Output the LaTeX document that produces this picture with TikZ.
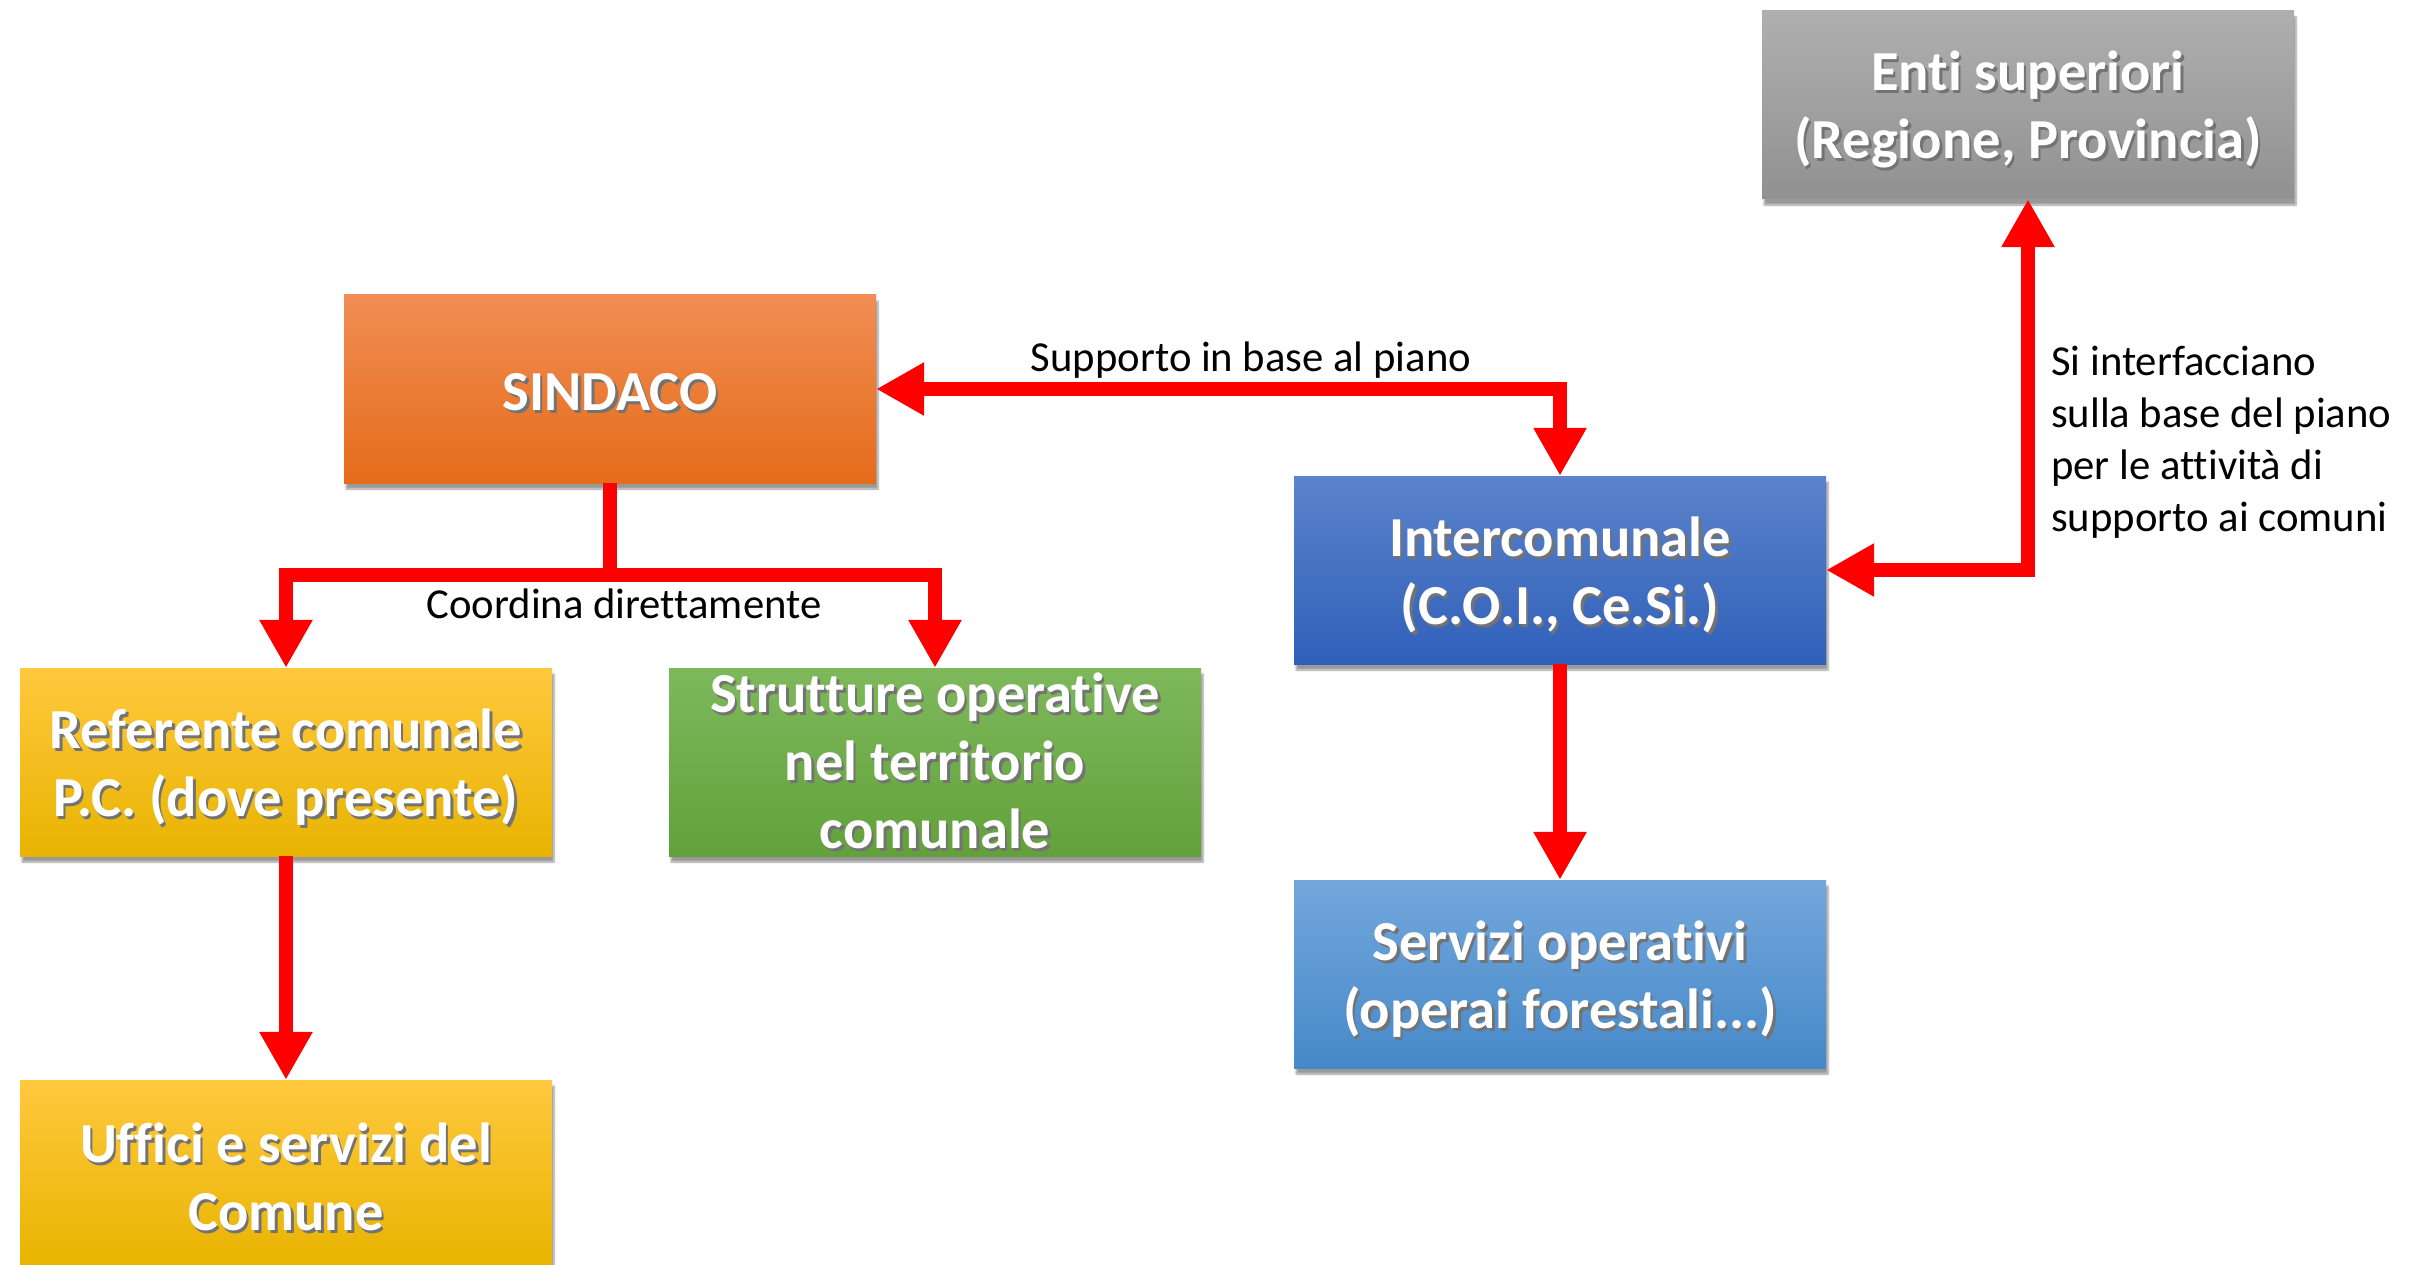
\documentclass[tikz,border=0pt]{standalone}
\usepackage{fontspec}
\setmainfont{Carlito}[Ligatures=NoCommon]
\usetikzlibrary{arrows.meta,shadows.blur}

\definecolor{orangeT}{RGB}{241,141,84}
\definecolor{orangeM}{RGB}{243,126,44}
\definecolor{orangeB}{RGB}{229,108,26}
\definecolor{grayT}{RGB}{175,175,175}
\definecolor{grayB}{RGB}{145,145,145}
\definecolor{blueT}{RGB}{92,131,204}
\definecolor{blueB}{RGB}{47,96,185}
\definecolor{yellowT}{RGB}{255,200,62}
\definecolor{yellowM}{RGB}{255,192,0}
\definecolor{yellowB}{RGB}{232,180,0}
\definecolor{greenT}{RGB}{126,184,92}
\definecolor{greenB}{RGB}{98,161,58}
\definecolor{lblueT}{RGB}{115,167,220}
\definecolor{lblueB}{RGB}{70,137,201}

% white lettering with a dark offset copy underneath
\newcommand\shtxt[1]{\leavevmode\rlap{\kern2.5pt\raisebox{-3pt}{\textcolor{black!55}{#1}}}#1}
% taller first line, so short texts sit a little lower in their box
\newcommand\lowerstrut[1][52pt]{\rule{0pt}{#1}}

\begin{document}
\begin{tikzpicture}[x=1pt,y=-1pt,
  unitbox/.style={rectangle, minimum width=532pt, minimum height=188pt,
    inner sep=0pt, align=center, text=white,
    font=\fontsize{56.5}{68}\selectfont\bfseries,
    blur shadow={shadow xshift=2pt, shadow yshift=-6pt, shadow blur steps=6, shadow opacity=40}},
  link/.style={draw=red, line width=14pt},
  tip/.style={-{Triangle[width=50pt,length=48pt]}},
  twotip/.style={{Triangle[width=50pt,length=48pt]}-{Triangle[width=50pt,length=48pt]}},
  note/.style={font=\fontsize{42.7}{52}\selectfont, text=black, inner sep=0pt}]

\useasboundingbox (0,0) rectangle (2409,1265);

% boxes
\node[unitbox, top color=orangeT, middle color=orangeM, bottom color=orangeB] (sindaco) at (610,389) {\lowerstrut[46pt]\shtxt{SINDACO}};
\node[unitbox, top color=grayT, bottom color=grayB] (enti) at (2028,105) {\lowerstrut\shtxt{Enti superiori}\\\shtxt{(Regione, Provincia)}};
\node[unitbox, top color=blueT, bottom color=blueB] (interc) at (1560,570) {\lowerstrut\shtxt{Intercomunale}\\\shtxt{(C.O.I., Ce.Si.)}};
\node[unitbox, top color=yellowT, middle color=yellowM, bottom color=yellowB] (ref) at (286,762) {\lowerstrut\shtxt{Referente comunale}\\\shtxt{P.C. (dove presente)}};
\node[unitbox, top color=greenT, bottom color=greenB] (strut) at (935,762) {\shtxt{Strutture operative}\\\shtxt{nel territorio}\\\shtxt{comunale}};
\node[unitbox, top color=lblueT, bottom color=lblueB] (serv) at (1560,974) {\lowerstrut\shtxt{Servizi operativi}\\\shtxt{(operai forestali...)}};
\node[unitbox, top color=yellowT, middle color=yellowM, bottom color=yellowB] (uffici) at (286,1174) {\lowerstrut[48pt]\shtxt{Uffici e servizi del}\\\shtxt{Comune}};

% connectors
\coordinate (fork) at (610,575);
\draw[link] (sindaco.south) -- (fork);
\draw[link, tip] (fork) -- (fork -| ref.north) -- (ref.north);
\draw[link, tip] (fork) -- (fork -| strut.north) -- (strut.north);
\draw[link, twotip] (sindaco.east) -- (sindaco.east -| interc.north) -- (interc.north);
\draw[link, twotip] (interc.east) -- (interc.east -| enti.south) -- (enti.south);
\draw[link, tip] (interc.south) -- (serv.north);
\draw[link, tip] (ref.south) -- (uffici.north);

% labels
\node[note] (lblcoord) at (624,604) {Coordina direttamente};
\node[note] (lblsupp) at (1251,360) {Supporto in base al piano};
\node[note, align=left, anchor=north west] (lblenti) at (2051,346) {Si interfacciano\\sulla base del piano\\per le attività di\\supporto ai comuni};
\end{tikzpicture}
\end{document}
